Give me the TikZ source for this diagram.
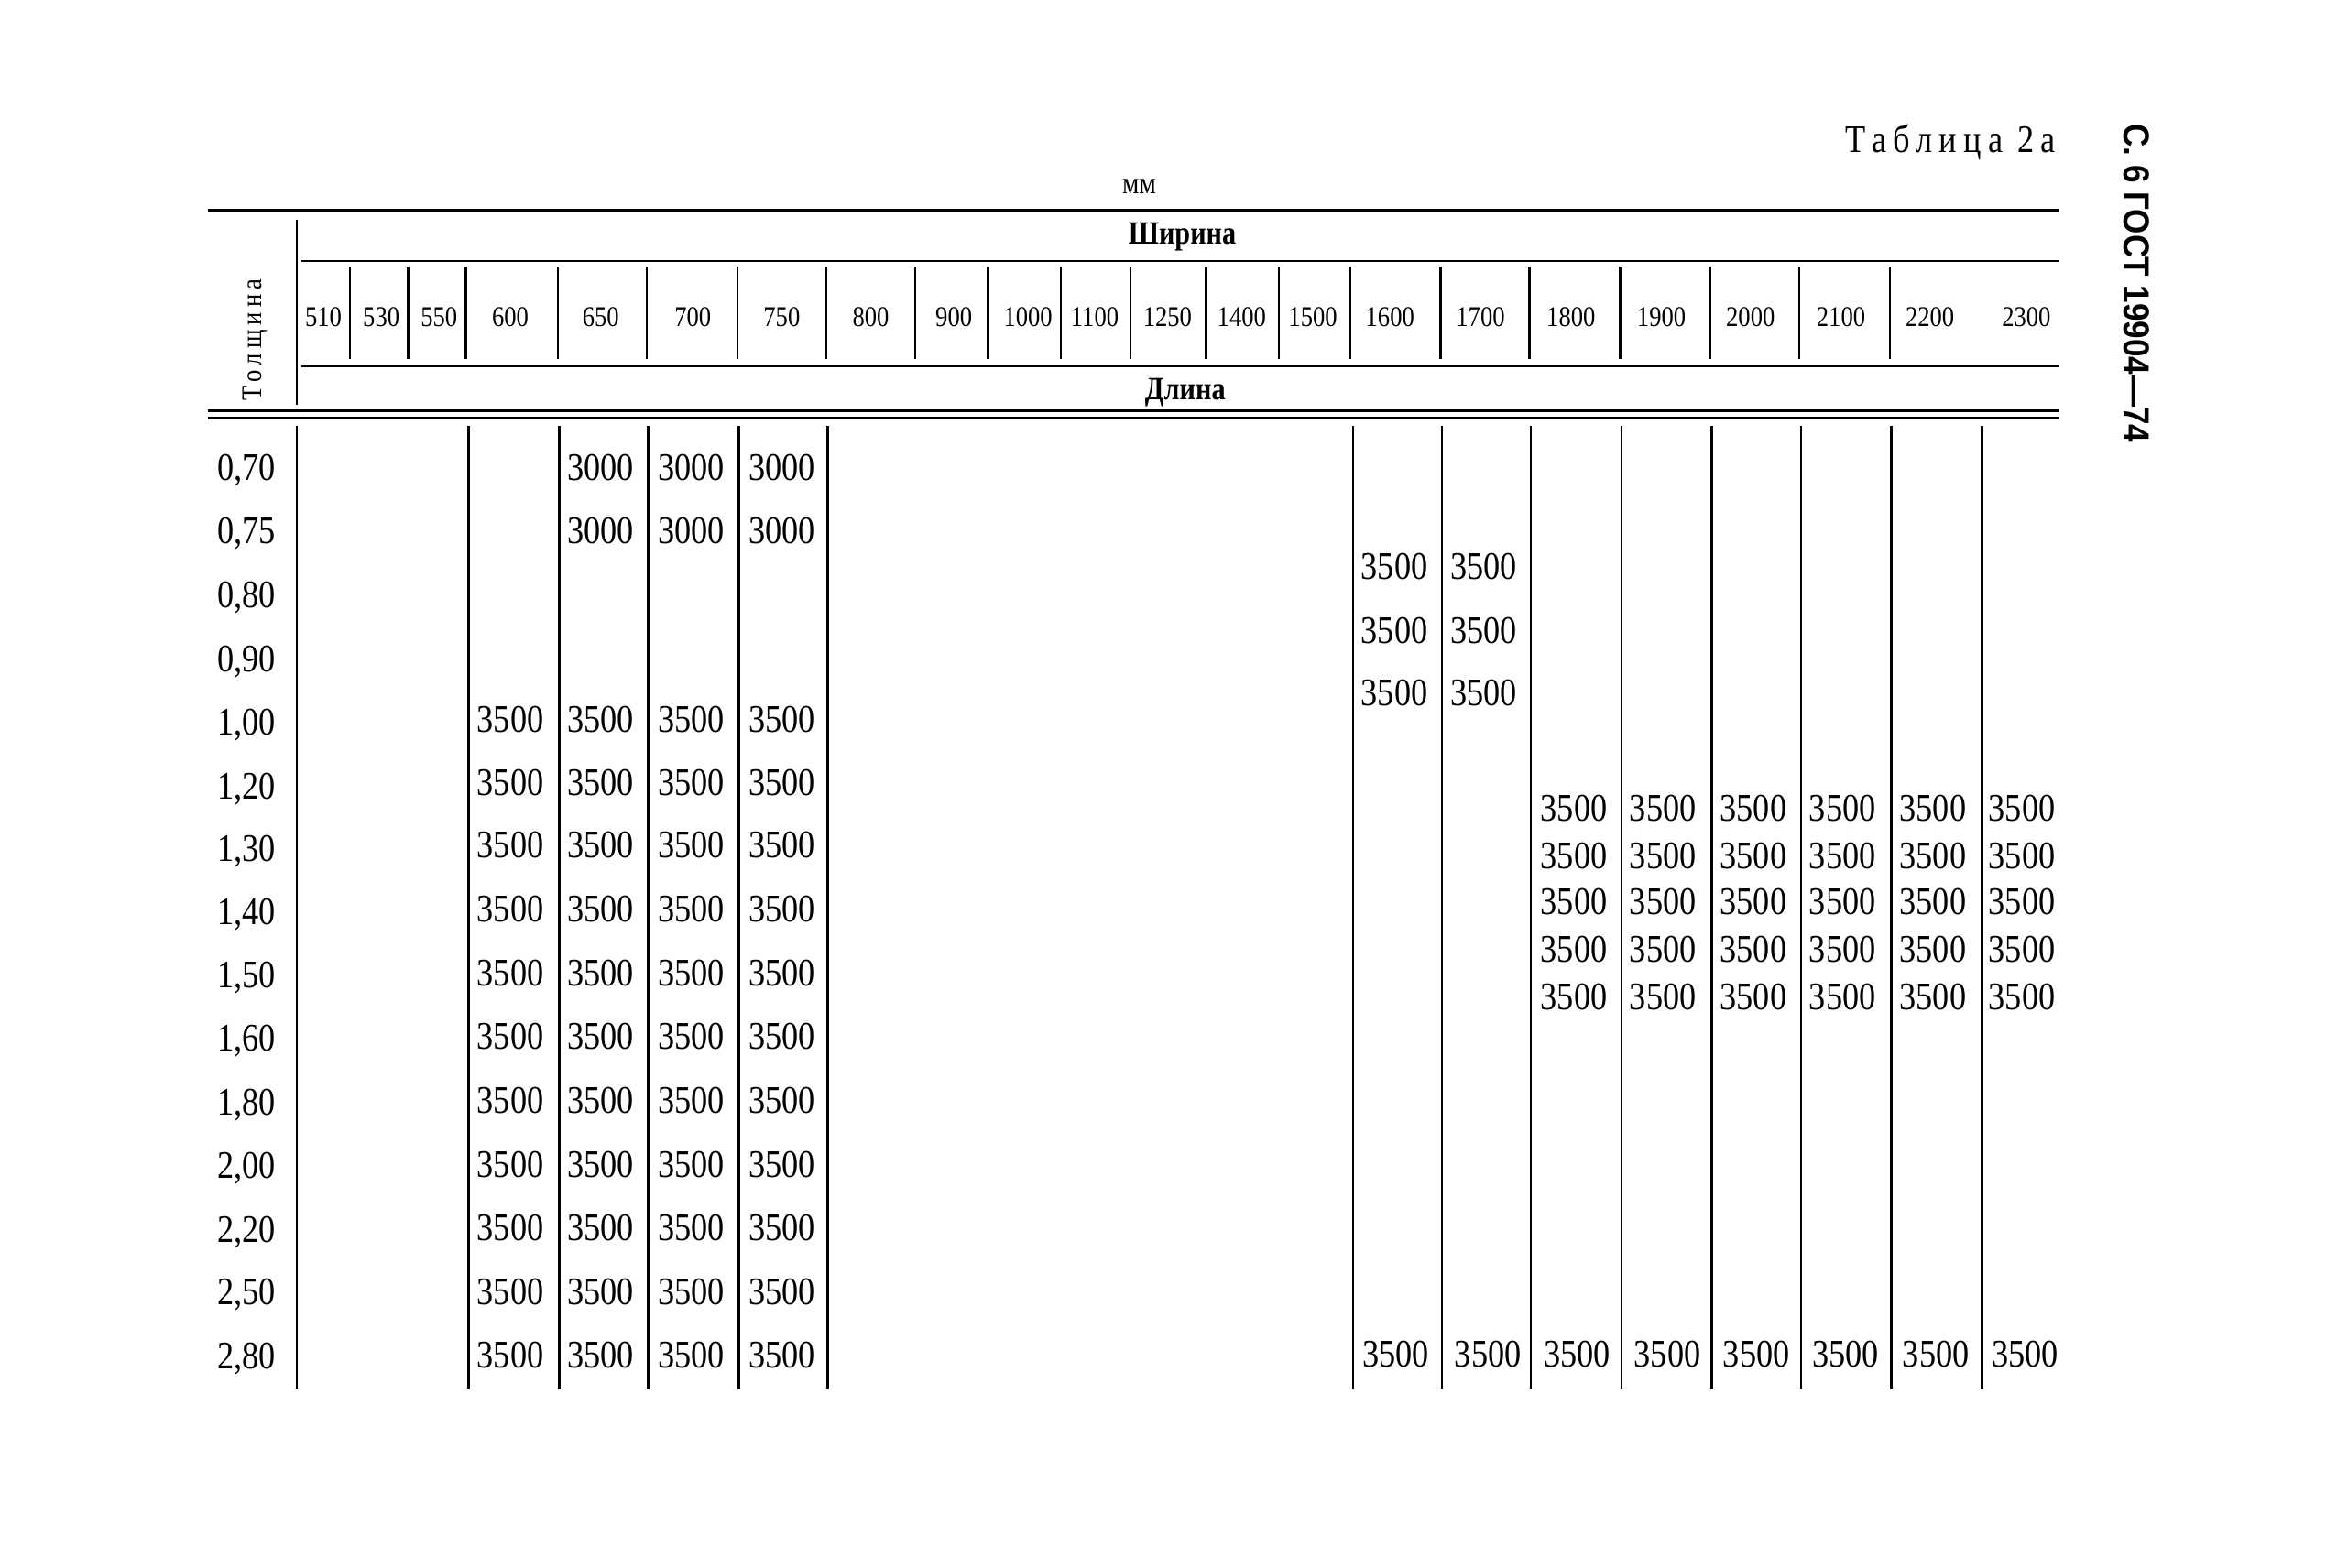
\documentclass[tikz,border=0pt]{standalone}
\usepackage{fontspec}
\setmainfont{Liberation Serif}[FakeStretch=0.85]
\setsansfont{Liberation Sans}
\newfontfamily\spaced{Liberation Serif}[FakeStretch=0.85,LetterSpace=17]
\newfontfamily\gostfont{Liberation Sans}[FakeStretch=0.88]

\begin{document}
\begin{tikzpicture}[x=0.2mm,y=-0.2mm,
	val/.style={inner sep=0pt,font=\fontsize{15}{15}\selectfont},
	hdnum/.style={inner sep=0pt,font=\fontsize{11}{11}\selectfont},
	heavy/.style={line width=1.7pt},
	rule/.style={line width=1pt},
	thin/.style={line width=0.8pt},
	sep/.style={line width=0.9pt}]
	\useasboundingbox (0,0) rectangle (1568,1057);
	% titles
	\node[anchor=east] (tab) at (1392,96) {\fontsize{15}{15}\selectfont\spaced Таблица 2а};
	\node[rotate=-90] (gost) at (1440,191) {\fontsize{14}{14}\selectfont\gostfont\bfseries С. 6 ГОСТ 19904—74};
	\node (mm) at (768,126) {\fontsize{12}{12}\selectfont мм};
	% head rules
	\draw[heavy] (140,142) -- (1388,142);
	\draw[rule] (203,176) -- (1388,176);
	\draw[rule] (203,247) -- (1388,247);
	\draw[thin] (140,277) -- (1388,277);
	\draw[thin] (140,282) -- (1388,282);
	\draw[sep] (200,148) -- (200,273);
	\node (shir) at (797,160) {\fontsize{12.5}{12.5}\selectfont\bfseries Ширина};
	\node (dlin) at (799,265) {\fontsize{12.5}{12.5}\selectfont\bfseries Длина};
	\node[rotate=90] (tol) at (172,229) {\fontsize{11}{11}\selectfont\spaced Толщина};
	% widths
	\foreach \x/\w in {218/510,257/530,296/550,344/600,405/650,467/700,527/750,587/800,643/900,693/1000,738/1100,787/1250,837/1400,885/1500,937/1600,998/1700,1059/1800,1120/1900,1180/2000,1241/2100,1301/2200,1366/2300}
		\node[hdnum] (w\w) at (\x,214) {\w};
	\foreach \x in {236,275,314,376,436,497,557,617,666,715,762,813,862,910,971,1031,1092,1153,1213,1274}
		\draw[sep] (\x,180) -- (\x,242);
	% body
	\foreach \x in {200,316,377,437,498,558,912,972,1032,1093,1154,1214,1275,1336}
		\draw[sep] (\x,287) -- (\x,937);
	\foreach \y/\t [count=\i] in {317/{0,70},360/{0,75},403/{0,80},446/{0,90},489/{1,00},532/{1,20},574/{1,30},617/{1,40},659/{1,50},702/{1,60},745/{1,80},788/{2,00},831/{2,20},873/{2,50},916/{2,80}}
		\node[val,anchor=east] (t\i) at (186,\y) {\t};
	\foreach \y [count=\i] in {315,358}
		\foreach \x/\c in {405/b,466/c,527/d}
			\node[val] (s\c\i) at (\x,\y) {3000};
	\foreach \y [count=\i] in {485,528,570,613,656,699,742,785,828,871,914}
		\foreach \x/\c in {344/a,405/b,466/c,527/d}
			\node[val] (v\c\i) at (\x,\y) {3500};
	\foreach \y [count=\i] in {382,425,467}
		\foreach \x/\c in {940/e,1000/f}
			\node[val] (u\c\i) at (\x,\y) {3500};
	\foreach \y [count=\i] in {545,577,608,640,672}
		\foreach \x/\c in {1061/g,1121/h,1182/i,1242/j,1303/k,1363/l}
			\node[val] (r\c\i) at (\x,\y) {3500};
	\foreach \x/\c in {941/e,1003/f,1063/g,1124/h,1184/i,1244/j,1305/k,1365/l}
		\node[val] (z\c) at (\x,913) {3500};
\end{tikzpicture}
\end{document}
